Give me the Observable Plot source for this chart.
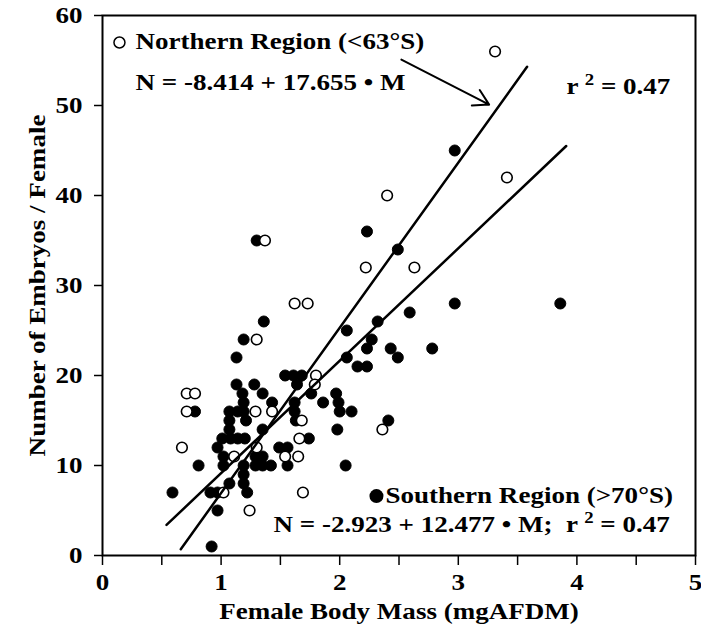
<!DOCTYPE html>
<html>
<head>
<meta charset="utf-8">
<script src="https://cdn.jsdelivr.net/npm/d3@7"></script>
<script src="https://cdn.jsdelivr.net/npm/@observablehq/plot@0.6"></script>
<style>
  html, body { margin: 0; padding: 0; background: #fff; }
</style>
</head>
<body>
<div id="chart"></div>
<script>
// ---- Data ----
// Northern Region (<63°S): open circles
const northMass    = [3.31, 3.41, 2.40, 1.37, 2.22, 2.63, 1.62, 1.73, 1.30, 1.80, 1.79, 0.71, 0.78, 0.71, 1.29, 1.43, 1.68, 2.36, 1.66, 0.67, 1.30, 1.11, 1.54, 1.65, 1.02, 1.69, 1.24];
const northEmbryos = [56,   42,   40,   35,   32,   32,   28,   28,   24,   20,   19,   18,   18,   16,   16,   16,   15,   14,   13,   12,   12,   11,   11,   11,   7,    7,    5];

// Southern Region (>70°S): filled circles
const southMass    = [2.97, 2.23, 1.30, 2.49, 2.97, 3.86, 2.59, 1.36, 2.32, 2.06, 1.19, 2.27, 2.23, 2.43, 2.78, 1.13, 2.06, 2.49, 2.15, 2.23,
                      1.54, 1.61, 1.68, 1.13, 1.28, 1.64, 1.18, 1.35, 1.76, 1.97, 1.19, 1.43, 1.62, 1.86, 1.99, 0.78, 1.07, 1.14, 1.19, 1.62,
                      2.00, 2.10, 1.07, 1.21, 1.63, 2.41, 1.07, 1.35, 1.98, 1.01, 1.08, 1.14, 1.20, 1.74, 0.97, 1.49, 1.56, 1.02, 1.29, 1.35,
                      0.81, 1.02, 1.19, 1.29, 1.35, 1.42, 1.56, 2.05, 1.19, 1.07, 1.19, 0.59, 0.91, 0.97, 1.22, 0.97, 0.92];
const southEmbryos = [45,   36,   35,   34,   28,   28,   27,   26,   26,   25,   24,   24,   23,   23,   23,   22,   22,   22,   21,   21,
                      20,   20,   20,   19,   19,   19,   18,   18,   18,   18,   17,   17,   17,   17,   17,   16,   16,   16,   16,   16,
                      16,   16,   15,   15,   15,   15,   14,   14,   14,   13,   13,   13,   13,   13,   12,   12,   12,   11,   11,   11,
                      10,   10,   10,   10,   10,   10,   10,   10,   9,    8,    8,    7,    7,    7,    7,    5,    1];

// Fitted regression lines (end points as drawn)
const northFitMass    = [0.66, 3.58];
const northFitEmbryos = [0.7, 54.3];
const southFitMass    = [0.54, 3.91];
const southFitEmbryos = [3.4, 45.5];

// Axis ticks
const xTickValues = [0, 0.5, 1, 1.5, 2, 2.5, 3, 3.5, 4, 4.5, 5];
const yTickValues = [0, 10, 20, 30, 40, 50, 60];

// Texts
const xTitle = "Female Body Mass (mgAFDM)";
const yTitle = "Number of Embryos / Female";
const northLegend = "Northern Region (<63°S)";
const northEquation = "N = -8.414 + 17.655 • M";
const northR2 = "r ^2 = 0.47";
const southLegend = "Southern Region (>70°S)";
const southEquation = "N = -2.923 + 12.477 • M;  r ^2 = 0.47";

// ---- Build tables ----
const north = northMass.map((m, i) => ({mass: m, embryos: northEmbryos[i]}));
const south = southMass.map((m, i) => ({mass: m, embryos: southEmbryos[i]}));
const northFit = northFitMass.map((m, i) => ({mass: m, embryos: northFitEmbryos[i]}));
const southFit = southFitMass.map((m, i) => ({mass: m, embryos: southFitEmbryos[i]}));

const STRETCH = 1.175;

const chart = Plot.plot({
  width: 701,
  height: 638,
  marginLeft: 102,
  marginRight: 6,
  marginTop: 15,
  marginBottom: 83,
  x: {domain: [0, 5]},
  y: {domain: [0, 60]},
  style: {
    fontFamily: "'Liberation Serif', 'Times New Roman', serif",
    fontSize: "23px",
    fontWeight: "bold",
    background: "white",
    color: "black",
    overflow: "visible"
  },
  marks: [
    Plot.axisX({ticks: xTickValues, tickSize: 10, tickPadding: 8, strokeWidth: 1.5,
                tickFormat: d => Number.isInteger(d) ? String(d) : "", label: null}),
    Plot.axisY({ticks: yTickValues, tickSize: 8, tickPadding: 12, strokeWidth: 1.5, label: null}),
    Plot.frame({stroke: "black", strokeWidth: 2}),
    Plot.dot(south, {x: "mass", y: "embryos", r: 5.5, fill: "black", stroke: "black", strokeWidth: 1}),
    Plot.dot(north, {x: "mass", y: "embryos", r: 5.3, fill: "white", stroke: "black", strokeWidth: 1.6}),
    Plot.line(northFit, {x: "mass", y: "embryos", stroke: "black", strokeWidth: 2.5}),
    Plot.line(southFit, {x: "mass", y: "embryos", stroke: "black", strokeWidth: 2.5}),
    Plot.arrow([0], {x1: 2.52, y1: 55.1, x2: 3.26, y2: 50.1, stroke: "black", strokeWidth: 2, headLength: 13}),
    // legend markers
    Plot.dot([0], {x: 0.143, y: 57.0, r: 5.5, fill: "white", stroke: "black", strokeWidth: 1.5}),
    Plot.dot([0], {x: 2.31, y: 6.6, r: 7, fill: "black"}),
    // annotations
    Plot.text([northLegend], {x: 0.278, y: 56.33, text: d => d, textAnchor: "start", lineAnchor: "bottom"}),
    Plot.text([northEquation], {x: 0.278, y: 51.67, text: d => d, textAnchor: "start", lineAnchor: "bottom"}),
    Plot.text([northR2], {x: 3.912, y: 51.33, text: d => d, textAnchor: "start", lineAnchor: "bottom"}),
    Plot.text([southLegend], {x: 2.386, y: 5.78, text: d => d, textAnchor: "start", lineAnchor: "bottom"}),
    Plot.text([southEquation], {x: 1.442, y: 2.56, text: d => d, textAnchor: "start", lineAnchor: "bottom"}),
    // axis titles
    Plot.text([xTitle], {frameAnchor: "bottom", dy: 63, text: d => d, textAnchor: "middle", lineAnchor: "bottom"}),
    Plot.text([yTitle], {frameAnchor: "left", dx: -58, rotate: -90, text: d => d, textAnchor: "middle", lineAnchor: "bottom"})
  ]
});

document.getElementById("chart").appendChild(chart);

// superscripts
const ns = "http://www.w3.org/2000/svg";
chart.querySelectorAll("text").forEach(t => {
  const s = t.textContent;
  if (s.includes("^2")) {
    const [a, b] = s.split("^2");
    t.textContent = "";
    const t1 = document.createElementNS(ns, "tspan"); t1.textContent = a;
    const t2 = document.createElementNS(ns, "tspan"); t2.textContent = "2";
    t2.setAttribute("dy", "-9"); t2.setAttribute("font-size", "16px");
    const t3 = document.createElementNS(ns, "tspan"); t3.textContent = b;
    t3.setAttribute("dy", "9");
    t.append(t1, t2, t3);
  }
});

// horizontal stretch of lettering to match the reference's wide glyphs
chart.querySelectorAll("text").forEach(t => {
  const w = t.getComputedTextLength();
  if (w > 0) {
    t.setAttribute("textLength", (w * STRETCH).toFixed(1));
    t.setAttribute("lengthAdjust", "spacingAndGlyphs");
  }
});
</script>
</body>
</html>
